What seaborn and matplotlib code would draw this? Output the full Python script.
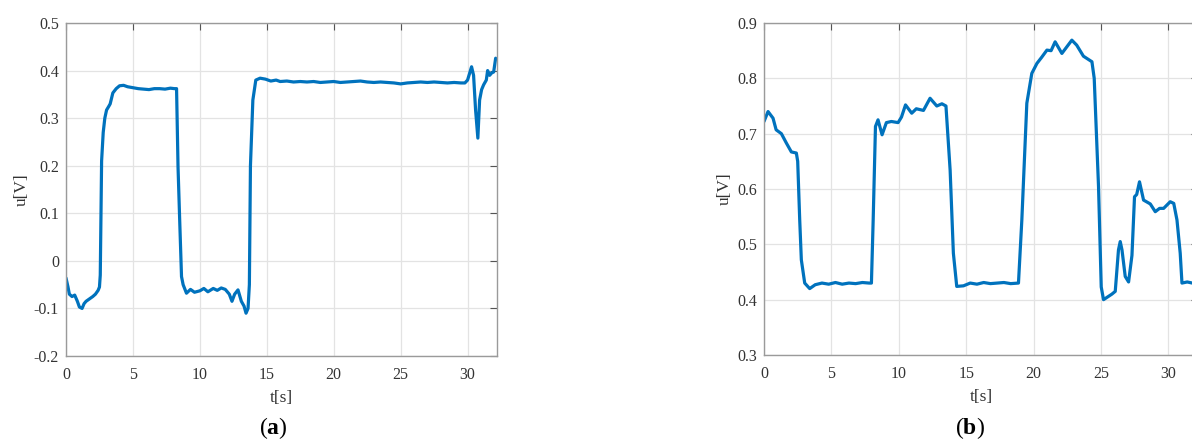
import numpy as np
import matplotlib
matplotlib.use("Agg")
import matplotlib.pyplot as plt
import seaborn as sns
from matplotlib.ticker import FuncFormatter, MultipleLocator

# Panel (a): control voltage
t_a = [0.0, 0.15, 0.25, 0.45, 0.65, 0.85, 1.0, 1.2, 1.35, 1.5, 1.75, 2.0, 2.2, 2.4, 2.5,
       2.56, 2.66, 2.78, 2.9, 3.03, 3.2, 3.3, 3.5, 3.75, 4.0, 4.3, 4.6, 5.0, 5.4, 5.8,
       6.2, 6.6, 7.0, 7.4, 7.8, 8.1, 8.26, 8.37, 8.5, 8.63, 8.75, 9.0, 9.3, 9.6, 10.0,
       10.3, 10.6, 11.0, 11.3, 11.6, 11.9, 12.2, 12.4, 12.6, 12.85, 13.1, 13.3, 13.45,
       13.6, 13.7, 13.78, 13.96, 14.18, 14.5, 14.9, 15.3, 15.7, 16.0, 16.5, 17.0, 17.5,
       18.0, 18.5, 19.0, 19.5, 20.0, 20.5, 21.0, 21.5, 22.0, 22.5, 23.0, 23.5, 24.0,
       24.5, 25.0, 25.5, 26.0, 26.5, 27.0, 27.5, 28.0, 28.5, 29.0, 29.5, 29.8, 30.0,
       30.3, 30.45, 30.6, 30.77, 30.9, 31.05, 31.2, 31.4, 31.5, 31.65, 31.8, 31.95, 32.1]
u_a = [-0.036, -0.055, -0.07, -0.075, -0.072, -0.085, -0.097, -0.10, -0.09, -0.085, -0.08,
       -0.075, -0.07, -0.062, -0.055, -0.03, 0.21, 0.27, 0.30, 0.317, 0.325, 0.33, 0.353,
       0.362, 0.368, 0.369, 0.366, 0.364, 0.362, 0.361, 0.360, 0.362, 0.362, 0.361, 0.363,
       0.362, 0.362, 0.197, 0.08, -0.033, -0.05, -0.068, -0.06, -0.066, -0.063, -0.058,
       -0.065, -0.058, -0.062, -0.057, -0.06, -0.07, -0.085, -0.07, -0.061, -0.085,
       -0.095, -0.11, -0.10, -0.05, 0.20, 0.338, 0.38, 0.384, 0.382, 0.378, 0.380, 0.377,
       0.378, 0.376, 0.377, 0.376, 0.377, 0.375, 0.376, 0.377, 0.375, 0.376, 0.377, 0.378,
       0.376, 0.375, 0.376, 0.375, 0.374, 0.372, 0.374, 0.375, 0.376, 0.375, 0.376, 0.375,
       0.374, 0.375, 0.374, 0.374, 0.380, 0.408, 0.39, 0.317, 0.258, 0.338, 0.36, 0.37,
       0.38, 0.40, 0.39, 0.395, 0.397, 0.426]

# Panel (b)
t_b = [0.0, 0.3, 0.67, 0.9, 1.29, 1.66, 2.03, 2.4, 2.5, 2.65, 2.77, 3.02, 3.39, 3.8, 4.3,
       4.8, 5.3, 5.8, 6.3, 6.8, 7.3, 7.8, 7.97, 8.1, 8.27, 8.46, 8.76, 9.08, 9.45, 9.95,
       10.2, 10.5, 10.96, 11.3, 11.83, 12.32, 12.82, 13.2, 13.5, 13.81, 14.05, 14.3, 14.8,
       15.3, 15.8, 16.3, 16.8, 17.3, 17.8, 18.3, 18.88, 19.13, 19.5, 19.87, 20.25, 20.6,
       20.99, 21.3, 21.6, 22.1, 22.5, 22.84, 23.2, 23.7, 24.33, 24.5, 24.82, 25.02, 25.19,
       25.5, 25.81, 26.06, 26.3, 26.43, 26.56, 26.8, 27.05, 27.3, 27.49, 27.65, 27.86,
       28.16, 28.66, 29.03, 29.35, 29.65, 30.14, 30.4, 30.64, 30.88, 31.01, 31.4, 31.78,
       32.2]
u_b = [0.722, 0.74, 0.728, 0.707, 0.70, 0.683, 0.667, 0.665, 0.65, 0.544, 0.472, 0.43,
       0.42, 0.427, 0.43, 0.428, 0.431, 0.428, 0.430, 0.429, 0.431, 0.430, 0.43, 0.544,
       0.713, 0.725, 0.698, 0.72, 0.722, 0.72, 0.73, 0.752, 0.737, 0.745, 0.742, 0.764,
       0.75, 0.754, 0.75, 0.634, 0.484, 0.424, 0.425, 0.43, 0.428, 0.431, 0.429, 0.430,
       0.431, 0.429, 0.43, 0.544, 0.755, 0.809, 0.827, 0.838, 0.851, 0.85, 0.866, 0.845,
       0.858, 0.869, 0.86, 0.84, 0.83, 0.80, 0.604, 0.423, 0.40, 0.405, 0.41, 0.415, 0.49,
       0.505, 0.49, 0.442, 0.432, 0.48, 0.586, 0.59, 0.613, 0.58, 0.573, 0.559, 0.565,
       0.565, 0.577, 0.574, 0.544, 0.484, 0.43, 0.432, 0.43, 0.43]

W, H = 1192, 446
LINE = "#0072BD"

sns.set_theme(style="white")
plt.rcParams["font.family"] = ["Liberation Serif", "DejaVu Serif"]
plt.rcParams["axes.unicode_minus"] = False
plt.rcParams["mathtext.fontset"] = "custom"
plt.rcParams["mathtext.rm"] = "Liberation Serif"
plt.rcParams["mathtext.bf"] = "Liberation Serif:bold"

fig = plt.figure(figsize=(W / 100, H / 100), dpi=100)


def px_axes(x0, x1, y0, y1):
    # axes placed by pixel box (top-left origin)
    return fig.add_axes([x0 / W, (H - y1) / H, (x1 - x0) / W, (y1 - y0) / H])


def style_axes(ax, ylim, ystep):
    ax.set_xlim(0, 32.2)
    ax.set_ylim(*ylim)
    ax.xaxis.set_major_locator(MultipleLocator(5))
    ax.yaxis.set_major_locator(MultipleLocator(ystep))
    ax.yaxis.set_major_formatter(FuncFormatter(lambda v, p: f"{round(v, 2):g}"))
    ax.grid(True, color="#e3e3e3", linewidth=0.9)
    for s in ax.spines.values():
        s.set_color("#9a9a9a")
        s.set_linewidth(1.0)
    ax.tick_params(direction="in", length=5, width=0.8, color="#555555",
                   top=True, right=True, labelsize=11.5, labelcolor="#333333")
    ax.tick_params(axis="x", pad=8)
    ax.tick_params(axis="y", pad=5)
    ax.set_xlabel("t[s]", fontsize=12.5, color="#333333", labelpad=5)
    ax.set_ylabel("u[V]", fontsize=12.5, color="#333333", labelpad=3)


ax_a = px_axes(66, 497, 23, 356)
sns.lineplot(x=t_a, y=u_a, ax=ax_a, color=LINE, linewidth=2.3, estimator=None, sort=False)
style_axes(ax_a, (-0.2, 0.5), 0.1)

ax_b = px_axes(764, 1198, 23, 355)
sns.lineplot(x=t_b, y=u_b, ax=ax_b, color=LINE, linewidth=2.3, estimator=None, sort=False)
style_axes(ax_b, (0.3, 0.9), 0.1)

fig.text(273 / W, 1 - 428 / H, r"($\mathbf{a}$)", ha="center", va="center", fontsize=17,
         color="black")
fig.text(970 / W, 1 - 428 / H, r"($\mathbf{b}$)", ha="center", va="center", fontsize=17,
         color="black")

fig.savefig("out.png", dpi=100)
